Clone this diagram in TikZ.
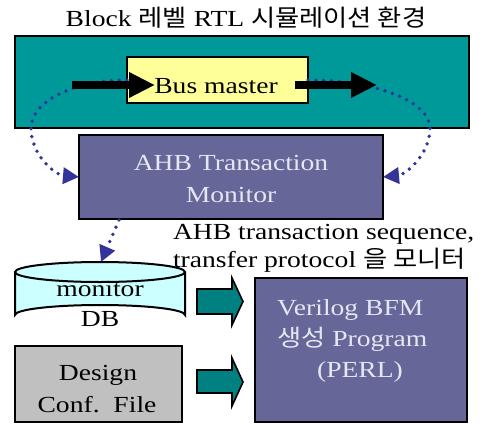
\documentclass[tikz,border=0pt]{standalone}
\usepackage{fontspec}
\setmainfont{Liberation Serif}[FakeStretch=1.2]
\newfontfamily\kr{Noto Sans CJK KR}[Scale=1.02, FakeStretch=1.12]
\usetikzlibrary{arrows.meta}
\definecolor{tealbg}{HTML}{009999}
\definecolor{busfill}{HTML}{FFFF99}
\definecolor{purp}{HTML}{666699}
\definecolor{dbfill}{HTML}{CCFFFF}
\definecolor{conffill}{HTML}{C0C0C0}
\definecolor{arrfill}{HTML}{008080}
\definecolor{dotblue}{HTML}{333399}
\definecolor{lighttext}{HTML}{E6E6F2}
\tikzset{
  box/.style={draw=black, line width=2pt, inner sep=0pt, outer sep=0pt},
  txt/.style={inner sep=0pt, outer sep=0pt, font=\fontsize{23}{30}\selectfont},
  dotarrow/.style={draw=dotblue, line width=3.8pt, line cap=round, dash pattern=on 0pt off 7.8pt,
    -{Triangle[length=16pt,width=16pt]}},
  blackarrow/.style={draw=black, line width=8pt, -{Triangle[length=26pt,width=24pt]}},
  blockarr/.style={draw=black, line width=1.6pt, fill=arrfill, line join=miter},
}
\begin{document}
\begin{tikzpicture}[x=1pt,y=-1pt]
\useasboundingbox (0,0) rectangle (487,423);

% title
\node[txt, anchor=base] (title) at (246,26) {Block {\kr 레벨} RTL {\kr 시뮬레이션 환경}};

% boxes
\node[box, fill=tealbg, minimum width=454.5pt, minimum height=91.5pt] (env) at (241.75,81.75) {};
\node[box, fill=busfill, minimum width=181pt, minimum height=46pt] (bus) at (217.5,80) {};
\node[box, fill=purp, minimum width=304pt, minimum height=84pt] (mon) at (231,177) {};
\node[box, fill=conffill, minimum width=167pt, minimum height=76pt] (conf) at (98.5,384) {};
\node[box, fill=purp, minimum width=212pt, minimum height=144pt] (bfm) at (361,350) {};

% database cylinder
\draw[fill=dbfill, line width=2pt] (15,272) -- (15,315) arc[start angle=180, end angle=360, x radius=85, y radius=10] -- (185,272);
\draw[fill=dbfill, line width=2pt] (100,272) ellipse[x radius=85, y radius=10];
\coordinate (dbtop) at (101,262);
\coordinate (monout) at (119,220);

% dotted arcs
\draw[dotarrow] (bus.west) .. controls (74,80) and (31,101.5) .. (31,128)
  .. controls (31,155) and (55,175) .. (mon.west);
\draw[dotarrow] (bus.east) .. controls (375,80) and (430,101.5) .. (430,128)
  .. controls (430,155) and (405,175) .. (mon.east);
\draw[dotarrow] (monout) -- (dbtop);

% black arrows
\coordinate (la) at (72,85);
\coordinate (lb) at (155,85);
\coordinate (ra) at (295,85);
\coordinate (rb) at (377,85);
\draw[blackarrow] (la) -- (lb);
\draw[blackarrow] (ra) -- (rb);

% block arrows
\draw[blockarr] (197,289) -- (232,289) -- (232,278) -- (243,301.5) -- (232,325) -- (232,314) -- (197,314) -- cycle;
\draw[blockarr] (197,370) -- (232,370) -- (232,358) -- (243,382) -- (232,406) -- (232,393) -- (197,393) -- cycle;

% texts
\node[txt, anchor=base] (bustxt) at (216,93) {Bus master};
\node[txt, anchor=base, text=lighttext] (mon1) at (231,170) {AHB Transaction};
\node[txt, anchor=base, text=lighttext] (mon2) at (231,202) {Monitor};
\node[txt, anchor=base west] (lab1) at (173,239) {AHB transaction sequence,};
\node[txt, anchor=base west] (lab2) at (173,267) {transfer protocol {\kr 을 모니터}};
\node[txt, anchor=base] (db1) at (100,296) {monitor};
\node[txt, anchor=base] (db2) at (100,326) {DB};
\node[txt, anchor=base] (conf1) at (98,380) {Design};
\node[txt, anchor=base] (conf2) at (97,412) {Conf.\ \ File};
\node[txt, anchor=base west, text=lighttext] (bfm1) at (277,315) {Verilog BFM};
\node[txt, anchor=base west, text=lighttext] (bfm2) at (277,346) {{\kr 생성} Program};
\node[txt, anchor=base, text=lighttext] (bfm3) at (360,377) {(PERL)};
\end{tikzpicture}
\end{document}
